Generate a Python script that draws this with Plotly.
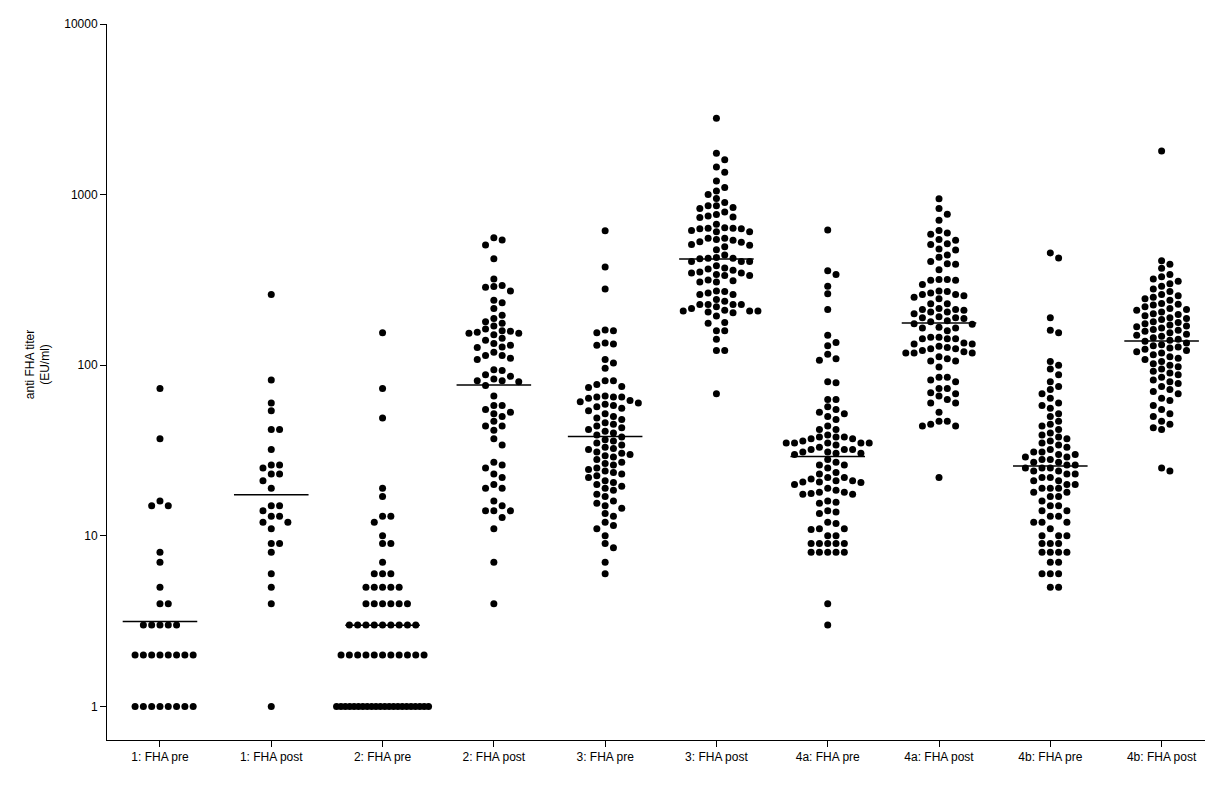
import numpy as np
import plotly.graph_objects as go

categories = ["1: FHA pre", "1: FHA post", "2: FHA pre", "2: FHA post", "3: FHA pre",
              "3: FHA post", "4a: FHA pre", "4a: FHA post", "4b: FHA pre", "4b: FHA post"]

g1_pre = [73, 37, 16, 15, 15, 8, 7, 5, 4, 4, 3, 3, 3, 3, 3,
          2, 2, 2, 2, 2, 2, 2, 2, 1, 1, 1, 1, 1, 1, 1, 1]
g1_post = [260, 82, 60, 54, 42, 42, 32, 26, 25, 26, 23, 23, 21, 19, 15, 15, 14, 13, 13,
           12, 12, 11, 9, 9, 8, 6, 5, 4, 1]
g2_pre = [155, 73, 49, 19, 17, 13, 13, 12, 10, 9, 9, 7, 6, 6, 6,
          5, 5, 5, 5, 5, 4, 4, 4, 4, 4, 4, 3, 3, 3, 3, 3, 3, 3, 3, 3,
          2, 2, 2, 2, 2, 2, 2, 2, 2, 2, 2,
          1, 1, 1, 1, 1, 1, 1, 1, 1, 1, 1, 1, 1, 1, 1, 1, 1, 1, 1, 1, 1, 1]
g2_post = [558, 542, 507, 420, 320, 293, 286, 289, 272, 240, 232, 215, 196, 188, 180, 176, 170,
           163, 158, 154, 151, 144, 154, 156, 159, 140, 131, 127, 128, 134, 114, 110, 108, 114,
           119, 94, 93, 88, 86, 83, 80, 81, 81, 76, 66, 58, 58, 55, 52, 53, 50, 47, 44, 44, 41.5,
           37, 34, 26, 27, 25, 23, 22, 19, 19, 20, 16, 15, 14, 14, 14, 12.8, 11, 7, 4]
g3_pre = [613, 376, 280, 161, 155, 159, 133, 131, 135, 103, 108, 96, 81, 77, 74, 75, 81,
          65, 65, 66, 64, 65,
          62, 61, 60, 59, 58, 57, 56, 54, 52, 50, 49, 48, 46, 45, 44, 43, 42, 41, 40, 39, 38,
          36.5, 36, 35, 34, 33, 32.5, 32, 31, 30.5, 30, 29.5, 29, 28, 27, 26.5, 26, 25, 24.5,
          24, 23.5, 23, 22.5, 22, 21, 20.5, 20, 19.5, 19, 18.5, 17.5, 17, 16, 15.5, 15, 14.5,
          13.5, 13, 12, 11.5, 11, 10, 9, 8.5, 7, 6]
g3_post = [2800, 1750, 1600, 1450, 1350, 1200, 1100, 1050, 1000, 950, 900,
           860, 840, 790, 830, 860, 765, 740, 735, 750, 670,
           640, 635, 630, 615, 605, 605, 630, 635, 555, 545, 540, 555,
           505, 475, 495, 510, 525, 530, 443, 424, 420, 405, 405, 405, 424, 428,
           383, 366, 347, 347, 352, 360, 371, 335, 316, 307, 307, 313, 336, 340,
           260, 272, 265, 260, 270, 243, 237,
           220, 215, 208, 227, 227, 227, 227, 205, 203, 208, 194, 208, 210,
           178, 176, 159, 159, 142, 122, 122, 68]
g4a_pre = [620, 358, 340, 290, 262, 212, 150, 136, 130, 116, 109, 107, 80, 79, 63, 63,
           57, 55, 53, 52, 50, 48, 44, 42, 42, 39, 38, 38, 38, 37, 37, 36, 35, 35, 35, 35, 35,
           34, 33, 32, 32, 32, 31, 31, 30.5, 30.5, 30, 28, 27, 26, 26, 25, 23.5, 23,
           22, 22, 21.5, 21, 21, 20.7, 20.7, 20.5, 20, 19, 18.5, 18, 18, 17.7, 17.5, 17.5,
           16, 15.7, 15.5, 14, 13.8, 13.5, 12, 11.8, 11, 11, 10.9, 10, 10,
           9, 9, 9, 9, 9, 8, 8, 8, 8, 8, 4, 3]
g4a_post = [945, 828, 767, 708, 615, 595, 585, 545, 540, 515, 510, 480, 474, 443, 430,
            405, 393, 391, 363, 318, 318, 315, 315, 297, 272, 270, 265, 260, 260, 255, 250, 245,
            229, 229, 215, 212, 212, 210, 205, 205, 200, 192, 190, 190, 188, 182, 180, 175, 174,
            167, 165, 165, 159, 146, 146, 143, 143, 143, 135, 133, 133, 129, 127, 125, 125, 122,
            120, 118, 118, 118, 112, 109, 106, 106, 97.5, 85, 85, 82, 80, 73, 73, 69, 68, 66, 63,
            60, 60, 53, 47, 47, 45, 44, 44, 22]
g4b_pre = [455, 425, 190, 160, 155, 105, 100, 95, 88, 80, 75, 72, 68, 64,
           60, 58, 56, 52, 50, 47, 45, 44, 42, 40, 39, 38, 37, 36, 35, 34, 33, 32,
           31, 31, 30, 30, 29, 29, 28, 28, 27, 27, 26, 26, 25, 25, 25, 24, 24, 23, 23, 22, 22,
           21, 21, 20, 20, 19, 19, 19, 18, 18, 17, 17, 16, 15, 15, 14, 14, 13, 13, 12, 12, 12,
           11, 10, 10, 10, 9, 9, 9, 8, 8, 8, 8, 7, 7, 6, 6, 6, 5, 5]
g4b_post = [1800, 410, 390, 370, 340, 330, 320, 310, 300, 290, 280, 270, 260, 255, 250, 245,
            240, 230, 228, 225, 220, 215, 212, 210, 205, 200, 198, 195, 190, 188, 185, 180, 178,
            175, 172, 170, 168, 165, 162, 160, 158, 155, 152, 150, 148, 145, 142, 140, 138, 135,
            132, 130, 128, 126, 124, 122, 120, 118, 115, 112, 110, 108, 105, 102, 100, 98, 95,
            92, 90, 88, 85, 82, 80, 78, 75, 72, 70, 68, 64, 62, 58, 55, 52, 50, 47, 45, 43, 42,
            25, 24]

series = [g1_pre, g1_post, g2_pre, g2_post, g3_pre, g3_post, g4a_pre, g4a_post, g4b_pre, g4b_post]

y_tick_values = [1, 10, 100, 1000, 10000]
y_tick_labels = ["1", "10", "100", "1000", "10000"]

# ---- layout geometry (page body adds an 8px offset) ----
W, H = 1206, 779
ML, MR, MT, MB = 99, 9, 9, 47
XR = [-0.476, 9.39]
YR = [-0.197, 4.0]
pw = W - ML - MR
ph = H - MT - MB
px_per_unit = pw / (XR[1] - XR[0])
px_per_decade = ph / (YR[1] - YR[0])

SLOT = 8.3      # horizontal spacing between dots (px)
DY = 7.4        # min vertical separation inside a slot (px)
MAXHALF = 46    # maximum half width of a row (px)


def swarm_offsets(vals):
    vals = np.asarray(vals, dtype=float)
    ys = np.log10(vals) * px_per_decade
    order = np.argsort(-ys, kind="stable")
    placed = {}
    offs = np.zeros(len(vals))
    cand = [0]
    for m in range(1, 60):
        cand += [m, -m]
    for i in order:
        y = ys[i]
        for k in cand:
            if all(abs(y - yy) >= DY for yy in placed.get(k, [])):
                break
        placed.setdefault(k, []).append(y)
        offs[i] = k * SLOT
    # compress rows of tied values that are too wide
    for v in np.unique(vals):
        idx = np.where(vals == v)[0]
        if len(idx) > 1 and np.max(np.abs(offs[idx])) > MAXHALF:
            srt = idx[np.argsort(offs[idx])]
            offs[srt] = np.linspace(-MAXHALF, MAXHALF, len(srt))
    return offs / px_per_unit


fig = go.Figure()
for i, vals in enumerate(series):
    offs = swarm_offsets(vals)
    fig.add_trace(go.Scatter(
        x=i + offs, y=vals, mode="markers",
        marker=dict(color="black", size=7, line=dict(width=0)),
        hoverinfo="y", showlegend=False))
    gm = float(10 ** np.mean(np.log10(vals)))
    fig.add_trace(go.Scatter(
        x=[i - 0.335, i + 0.335], y=[gm, gm], mode="lines",
        line=dict(color="black", width=1.5), hoverinfo="skip", showlegend=False))

font_family = "Arial, Liberation Sans, Helvetica, sans-serif"
fig.update_layout(
    width=W, height=H,
    margin=dict(l=ML, r=MR, t=MT, b=MB, pad=0),
    plot_bgcolor="white", paper_bgcolor="white",
    font=dict(family=font_family, size=12, color="black"),
    showlegend=False,
    xaxis=dict(
        range=XR, tickmode="array", tickvals=list(range(len(categories))), ticktext=categories,
        showline=True, linecolor="black", linewidth=1, ticks="outside", ticklen=6,
        tickcolor="black", tickwidth=1, showgrid=False, zeroline=False,
        tickfont=dict(size=12, family=font_family, color="black")),
    yaxis=dict(
        type="log", range=YR, tickmode="array", tickvals=y_tick_values, ticktext=y_tick_labels,
        showline=True, linecolor="black", linewidth=1, ticks="outside", ticklen=6,
        tickcolor="black", tickwidth=1, showgrid=False, zeroline=False,
        tickfont=dict(size=12, family=font_family, color="black")),
    annotations=[dict(
        text="anti FHA titer<br>(EU/ml)", xref="paper", yref="y",
        x=(30 - ML) / pw, y=2, xanchor="center", yanchor="middle",
        textangle=-90, showarrow=False,
        font=dict(size=12, family=font_family, color="black"))],
)

fig.write_html("out.html")
